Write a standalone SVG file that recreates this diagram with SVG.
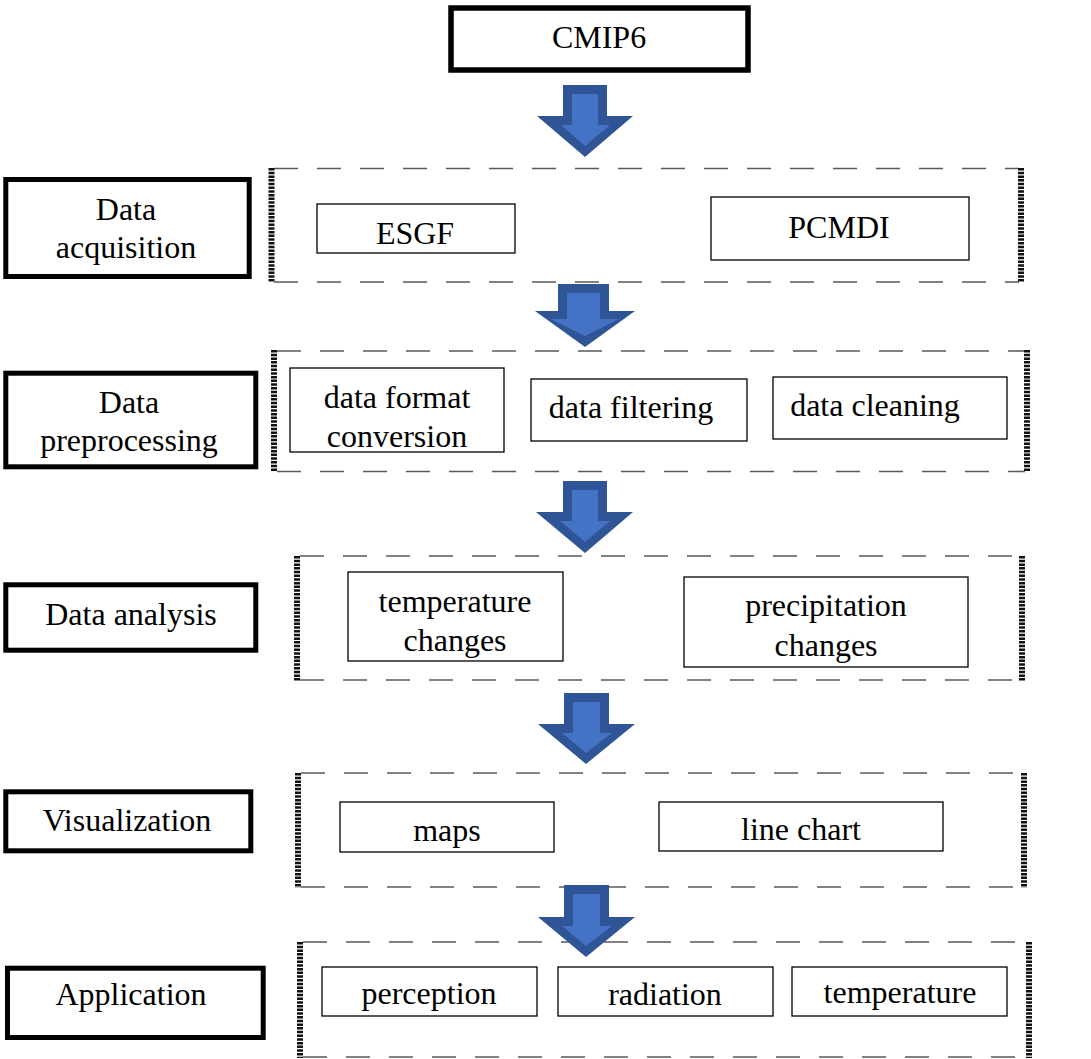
<svg xmlns="http://www.w3.org/2000/svg" width="1091" height="1059" viewBox="0 0 1091 1059">
<style>
  .bg { fill: #ffffff; }
  .stage { fill: #ffffff; stroke: #000000; stroke-width: 5; }
  .item { fill: #ffffff; stroke: #000000; stroke-width: 1.3; }
  .dash { stroke: #5a5a5a; stroke-width: 1.6; stroke-dasharray: 24 19; fill: none; }
  .dot { stroke: #111111; stroke-width: 6; stroke-dasharray: 2.5 1.2; fill: none; }
  .t { font-family: "Liberation Serif", "Times New Roman", serif; font-size: 32px; fill: #000000; text-anchor: middle; }
  .aout { fill: #2F5597; }
  .ain { fill: #4472C4; }
</style>
<rect class="bg" x="0" y="0" width="1091" height="1059"/>

<!-- top node -->
<g id="cmip6">
  <rect class="stage" x="451" y="8" width="297" height="62" style="stroke-width:5.5"/>
  <text class="t" x="599" y="48">CMIP6</text>
</g>

<!-- stage labels -->
<g id="stage-acquisition">
  <rect class="stage" x="5.8" y="179.5" width="243.4" height="97"/>
  <text class="t" x="126" y="220">Data</text>
  <text class="t" x="126" y="258">acquisition</text>
</g>
<g id="stage-preprocessing">
  <rect class="stage" x="5.8" y="373.2" width="250" height="93.6"/>
  <text class="t" x="129" y="413">Data</text>
  <text class="t" x="129" y="451">preprocessing</text>
</g>
<g id="stage-analysis">
  <rect class="stage" x="5.8" y="584.8" width="250" height="65.4"/>
  <text class="t" x="131" y="625">Data analysis</text>
</g>
<g id="stage-visualization">
  <rect class="stage" x="5.8" y="791.8" width="245" height="59"/>
  <text class="t" x="127" y="831">Visualization</text>
</g>
<g id="stage-application">
  <rect class="stage" x="7.5" y="968.2" width="255.7" height="69.3"/>
  <text class="t" x="131" y="1005">Application</text>
</g>

<!-- group frames -->
<g id="frame-acquisition">
  <line class="dash" x1="274" y1="168.5" x2="1019" y2="168.5"/>
  <line class="dash" x1="274" y1="282" x2="1019" y2="282"/>
  <line class="dot" x1="271.5" y1="168" x2="271.5" y2="282"/>
  <line class="dot" x1="1021" y1="168" x2="1021" y2="282"/>
</g>
<g id="frame-preprocessing">
  <line class="dash" x1="277" y1="351" x2="1025" y2="351"/>
  <line class="dash" x1="277" y1="471.5" x2="1025" y2="471.5"/>
  <line class="dot" x1="274" y1="350" x2="274" y2="472"/>
  <line class="dot" x1="1027" y1="350" x2="1027" y2="472"/>
</g>
<g id="frame-analysis">
  <line class="dash" x1="300" y1="556" x2="1020" y2="556"/>
  <line class="dash" x1="300" y1="680" x2="1020" y2="680"/>
  <line class="dot" x1="297" y1="556" x2="297" y2="681"/>
  <line class="dot" x1="1022" y1="556" x2="1022" y2="681"/>
</g>
<g id="frame-visualization">
  <line class="dash" x1="301" y1="773" x2="1022" y2="773"/>
  <line class="dash" x1="301" y1="887" x2="1022" y2="887"/>
  <line class="dot" x1="298" y1="773" x2="298" y2="888"/>
  <line class="dot" x1="1024" y1="773" x2="1024" y2="888"/>
</g>
<g id="frame-application">
  <line class="dash" x1="303" y1="942" x2="1027" y2="942"/>
  <line class="dash" x1="303" y1="1057" x2="1027" y2="1057"/>
  <line class="dot" x1="300" y1="942" x2="300" y2="1058"/>
  <line class="dot" x1="1029" y1="942" x2="1029" y2="1058"/>
</g>

<!-- inner items -->
<g id="esgf">
  <rect class="item" x="317" y="204" width="198" height="49"/>
  <text class="t" x="415" y="244">ESGF</text>
</g>
<g id="pcmdi">
  <rect class="item" x="711" y="197" width="258" height="63"/>
  <text class="t" x="839" y="238">PCMDI</text>
</g>
<g id="format-conversion">
  <rect class="item" x="290" y="368" width="214" height="84"/>
  <text class="t" x="397" y="408">data format</text>
  <text class="t" x="397" y="447">conversion</text>
</g>
<g id="filtering">
  <rect class="item" x="531" y="379" width="216" height="62"/>
  <text class="t" x="631" y="418">data filtering</text>
</g>
<g id="cleaning">
  <rect class="item" x="773" y="377" width="234" height="62"/>
  <text class="t" x="875" y="416">data cleaning</text>
</g>
<g id="temperature-changes">
  <rect class="item" x="348" y="572" width="215" height="89"/>
  <text class="t" x="455" y="612">temperature</text>
  <text class="t" x="455" y="651">changes</text>
</g>
<g id="precipitation-changes">
  <rect class="item" x="684" y="577" width="284" height="90"/>
  <text class="t" x="826" y="616">precipitation</text>
  <text class="t" x="826" y="656">changes</text>
</g>
<g id="maps">
  <rect class="item" x="340" y="802" width="214" height="50"/>
  <text class="t" x="447" y="841">maps</text>
</g>
<g id="line-chart">
  <rect class="item" x="659" y="802" width="284" height="49"/>
  <text class="t" x="801" y="840">line chart</text>
</g>
<g id="perception">
  <rect class="item" x="322" y="967" width="215" height="49"/>
  <text class="t" x="429" y="1004">perception</text>
</g>
<g id="radiation">
  <rect class="item" x="558" y="967" width="215" height="49"/>
  <text class="t" x="665" y="1005">radiation</text>
</g>
<g id="temperature">
  <rect class="item" x="792" y="967" width="215" height="49"/>
  <text class="t" x="900" y="1003">temperature</text>
</g>

<!-- connectors: block arrows -->
<g id="connectors">
  <g id="arrow-1">
    <polygon class="aout" points="563,85 607,85 607,116 633,116 585,157 537,116 563,116"/>
    <polygon class="ain" points="572,94 598,94 598,125 610,125 585,146 561,125 572,125"/>
  </g>
  <g id="arrow-2">
    <polygon class="aout" points="558,284 609,284 609,311 635,311 585,347 535,311 558,311"/>
    <polygon class="ain" points="567,293 600,293 600,319 619,319 585,336 551,319 567,319"/>
  </g>
  <g id="arrow-3">
    <polygon class="aout" points="563,481 607,481 607,512 633,512 585,553 536,512 563,512"/>
    <polygon class="ain" points="572,490 598,490 598,521 610,521 585,542 560,521 572,521"/>
  </g>
  <g id="arrow-4">
    <polygon class="aout" points="564,693 609,693 609,724 635,724 586,764 538,724 564,724"/>
    <polygon class="ain" points="573,702 600,702 600,733 612,733 586,753 562,733 573,733"/>
  </g>
  <g id="arrow-5">
    <polygon class="aout" points="564,885 609,885 609,917 635,917 586,957 538,917 564,917"/>
    <polygon class="ain" points="573,894 600,894 600,926 612,926 586,946 562,926 573,926"/>
  </g>
</g>
</svg>
